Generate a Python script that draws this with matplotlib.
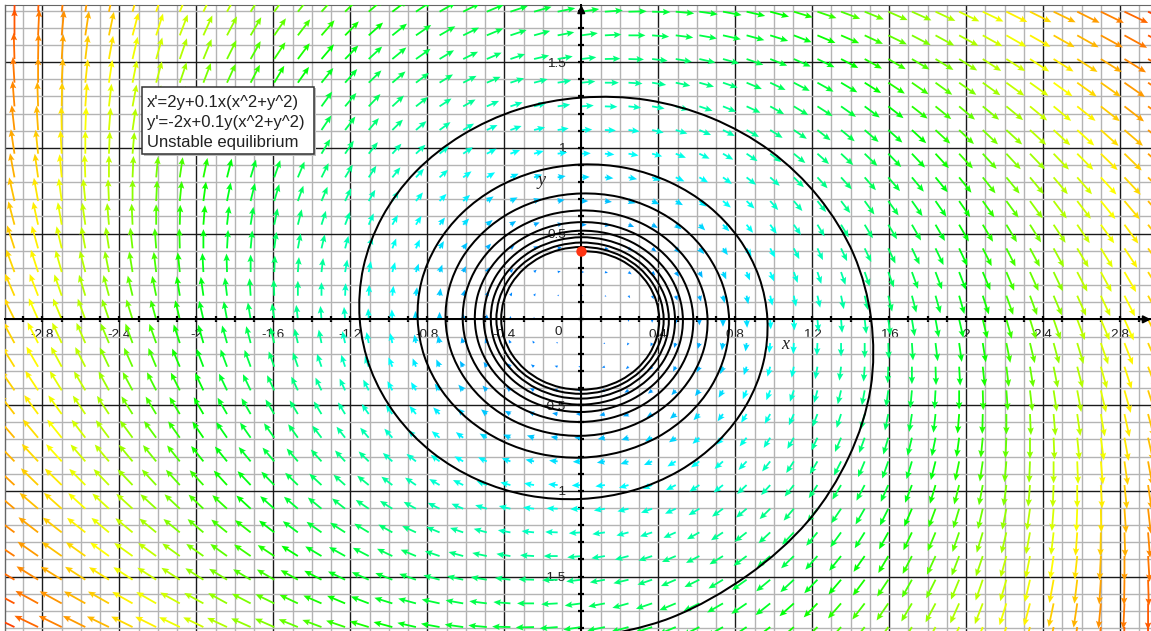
import numpy as np
import matplotlib
matplotlib.use("Agg")
import matplotlib.pyplot as plt
from matplotlib.colors import hsv_to_rgb
from matplotlib.patches import Rectangle, PathPatch
from matplotlib.path import Path

# ---- chart content -------------------------------------------------------
info_lines = ["x'=2y+0.1x(x^2+y^2)", "y'=-2x+0.1y(x^2+y^2)", "Unstable equilibrium"]
x_tick_values = [-2.8, -2.4, -2, -1.6, -1.2, -0.8, -0.4, 0.4, 0.8, 1.2, 1.6, 2, 2.4, 2.8]
x_tick_labels = ["-2.8", "-2.4", "-2", "-1.6", "-1.2", "-0.8", "-0.4", "0.4", "0.8", "1.2", "1.6", "2", "2.4", "2.8"]
y_tick_values = [-1.5, -1, -0.5, 0.5, 1, 1.5]
y_tick_labels = ["-1.5", "-1", "-0.5", "0.5", "1", "1.5"]
start_point = (0.0, 0.40)

# Trajectory: hand-estimated distance from the origin, one value per 15 degrees of clockwise travel from the top.
spiral_radius = [
 .400,.401,.402,.403,.403,.404,.405,.406,.407,.408,.409,.410,.410,.411,.412,.413,.414,.415,.416,.417,
 .418,.419,.420,.421,.422,.423,.424,.425,.426,.427,.428,.429,.430,.431,.432,.433,.434,.435,.436,.437,
 .438,.440,.441,.442,.443,.444,.445,.446,.448,.449,.450,.451,.452,.454,.455,.456,.457,.458,.460,.461,
 .462,.464,.465,.466,.468,.469,.470,.472,.473,.474,.476,.477,.479,.480,.482,.483,.484,.486,.487,.489,
 .491,.492,.494,.495,.497,.498,.500,.502,.503,.505,.507,.508,.510,.512,.514,.515,.517,.519,.521,.523,
 .525,.526,.528,.530,.532,.534,.536,.538,.540,.542,.545,.547,.549,.551,.553,.556,.558,.560,.562,.565,
 .567,.570,.572,.574,.577,.579,.582,.585,.587,.590,.593,.595,.598,.601,.604,.607,.610,.613,.616,.619,
 .622,.625,.628,.632,.635,.638,.642,.645,.649,.652,.656,.660,.663,.667,.671,.675,.679,.683,.688,.692,
 .696,.701,.705,.710,.715,.719,.724,.729,.734,.740,.745,.751,.756,.762,.768,.774,.780,.786,.793,.799,
 .806,.813,.820,.827,.835,.843,.850,.859,.867,.876,.885,.894,.903,.913,.923,.934,.945,.956,.967,.979,
 .992,1.005,1.019,1.033,1.047,1.063,1.079,1.096,1.113,1.132,1.151,1.172,1.194,1.217,1.240,1.267,1.293,1.324,
 1.355,1.389,1.424,1.465,1.506,1.556,1.605,1.665,1.725,1.801,1.877]

# Arrow field, upper half, in tenths of a unit. One row per grid row from the x axis upward, 49 columns left to right.
field_u_upper = [
 [-26,-22,-20,-17,-15,-13,-11,-9,-8,-6,-5,-4,-3,-2,-2,-1,-1,-1,0,0,0,0,0,0,0,0,0,0,0,0,0,1,1,1,2,2,3,4,5,6,8,9,11,13,15,17,20,22,26],
 [-23,-20,-17,-14,-12,-10,-8,-6,-5,-4,-2,-1,0,0,1,1,2,2,2,3,3,3,3,3,3,3,3,3,3,3,3,3,4,4,5,5,6,7,8,9,10,12,14,15,18,20,22,25,28],
 [-20,-17,-14,-12,-9,-7,-5,-4,-2,-1,0,1,2,3,4,4,5,5,5,5,5,5,5,6,6,6,6,6,6,6,6,6,7,7,7,8,9,10,11,12,13,15,16,18,20,23,25,28,31],
 [-18,-15,-12,-9,-7,-5,-3,-1,0,2,3,4,5,6,6,7,7,7,8,8,8,8,8,8,8,8,8,8,8,9,9,9,9,10,10,11,12,13,14,15,16,18,19,21,23,26,28,31,34],
 [-15,-12,-9,-7,-4,-2,0,1,3,4,5,6,7,8,9,9,10,10,10,11,11,11,11,11,11,11,11,11,11,11,12,12,12,13,13,14,15,16,17,18,19,21,22,24,27,29,32,34,37],
 [-13,-10,-7,-5,-2,0,2,4,5,7,8,9,10,11,11,12,12,13,13,13,13,14,14,14,14,14,14,14,14,14,15,15,15,16,16,17,18,19,20,21,22,24,26,28,30,32,35,38,41],
 [-11,-8,-5,-2,0,2,4,6,8,9,10,11,12,13,14,14,15,15,16,16,16,16,16,16,17,17,17,17,17,17,17,18,18,19,19,20,21,22,23,24,25,27,29,31,33,35,38,41,44],
 [-9,-6,-3,0,2,4,6,8,10,11,13,14,15,16,16,17,17,18,18,19,19,19,19,19,19,19,20,20,20,20,20,21,21,22,22,23,24,25,26,27,29,30,32,34,36,39,42,44,48],
 [-7,-4,-1,2,4,7,9,10,12,14,15,16,17,18,19,19,20,20,21,21,21,22,22,22,22,22,22,23,23,23,23,24,24,25,25,26,27,28,29,31,32,34,36,38,40,42,45,48,51],
 [-5,-2,1,4,6,9,11,13,14,16,17,18,19,20,21,22,22,23,23,24,24,24,24,25,25,25,25,25,26,26,26,27,27,28,29,29,30,31,33,34,35,37,39,41,43,46,49,52,55],
 [-4,0,3,6,8,10,13,15,16,18,19,20,22,23,23,24,25,25,26,26,27,27,27,27,28,28,28,28,29,29,29,30,30,31,32,33,34,35,36,37,39,41,43,45,47,50,52,55,59],
 [-2,1,4,7,10,12,14,16,18,20,21,23,24,25,26,26,27,28,28,29,29,29,30,30,30,31,31,31,32,32,32,33,34,34,35,36,37,38,39,41,42,44,46,48,51,53,56,59,63],
 [0,3,6,9,12,14,16,18,20,22,23,25,26,27,28,29,29,30,31,31,32,32,32,33,33,33,34,34,35,35,36,36,37,37,38,39,40,42,43,44,46,48,50,52,55,57,60,63,67],
 [1,4,8,10,13,16,18,20,22,24,25,27,28,29,30,31,32,32,33,34,34,35,35,35,36,36,37,37,38,38,39,39,40,41,42,43,44,45,46,48,50,52,54,56,59,61,64,67,71],
]
field_v_upper = [
 [59,56,54,52,49,47,44,42,39,37,34,32,29,27,25,22,20,17,15,12,10,7,5,2,0,-2,-5,-7,-10,-12,-15,-17,-20,-22,-25,-27,-29,-32,-34,-37,-39,-42,-44,-47,-49,-52,-54,-56,-59],
 [60,58,55,52,50,47,45,42,40,37,35,32,30,27,25,22,20,17,15,12,10,7,5,2,0,-2,-5,-7,-10,-12,-15,-17,-20,-22,-24,-27,-29,-32,-34,-36,-39,-41,-44,-46,-48,-51,-53,-55,-58],
 [61,59,56,53,51,48,46,43,40,38,35,33,30,28,25,22,20,17,15,12,10,7,5,2,0,-2,-5,-7,-10,-12,-15,-17,-19,-22,-24,-26,-29,-31,-34,-36,-38,-40,-43,-45,-47,-50,-52,-54,-56],
 [63,60,57,54,52,49,46,44,41,38,36,33,30,28,25,23,20,18,15,12,10,7,5,3,0,-2,-5,-7,-10,-12,-14,-17,-19,-22,-24,-26,-28,-31,-33,-35,-38,-40,-42,-44,-47,-49,-51,-53,-55],
 [64,61,58,55,53,50,47,44,42,39,36,33,31,28,26,23,20,18,15,13,10,8,5,3,0,-2,-5,-7,-10,-12,-14,-17,-19,-21,-24,-26,-28,-30,-33,-35,-37,-39,-41,-43,-46,-48,-50,-52,-54],
 [65,62,59,56,54,51,48,45,42,39,37,34,31,29,26,23,21,18,15,13,10,8,5,3,0,-2,-5,-7,-9,-12,-14,-16,-19,-21,-23,-25,-28,-30,-32,-34,-36,-38,-40,-43,-45,-47,-49,-51,-53],
 [67,64,61,58,55,52,49,46,43,40,37,35,32,29,26,24,21,18,16,13,11,8,6,3,1,-2,-4,-7,-9,-11,-14,-16,-18,-21,-23,-25,-27,-29,-31,-33,-35,-38,-40,-42,-44,-45,-47,-49,-51],
 [68,65,62,59,56,53,50,47,44,41,38,35,32,30,27,24,21,19,16,14,11,8,6,3,1,-2,-4,-6,-9,-11,-13,-16,-18,-20,-22,-24,-26,-29,-31,-33,-35,-37,-39,-40,-42,-44,-46,-48,-50],
 [70,67,63,60,57,54,51,48,45,42,39,36,33,30,28,25,22,19,17,14,11,9,6,4,1,-1,-3,-6,-8,-11,-13,-15,-17,-19,-22,-24,-26,-28,-30,-32,-34,-36,-37,-39,-41,-43,-45,-46,-48],
 [72,68,65,62,58,55,52,49,46,43,40,37,34,31,28,26,23,20,17,15,12,9,7,4,2,-1,-3,-5,-8,-10,-12,-14,-17,-19,-21,-23,-25,-27,-29,-31,-33,-34,-36,-38,-40,-41,-43,-45,-46],
 [74,70,67,63,60,57,54,50,47,44,41,38,35,32,29,26,24,21,18,15,13,10,8,5,3,0,-2,-5,-7,-9,-11,-14,-16,-18,-20,-22,-24,-26,-28,-30,-31,-33,-35,-36,-38,-40,-41,-43,-44],
 [76,72,69,65,62,58,55,52,49,45,42,39,36,33,30,27,25,22,19,16,14,11,8,6,4,1,-1,-4,-6,-8,-10,-13,-15,-17,-19,-21,-23,-25,-26,-28,-30,-32,-33,-35,-36,-38,-39,-41,-42],
 [78,74,71,67,64,60,57,53,50,47,44,41,38,35,32,29,26,23,20,17,15,12,10,7,5,2,0,-3,-5,-7,-9,-11,-13,-16,-18,-19,-21,-23,-25,-27,-28,-30,-32,-33,-35,-36,-37,-39,-40],
 [80,77,73,69,66,62,59,55,52,49,45,42,39,36,33,30,27,24,21,19,16,13,11,8,6,3,1,-1,-4,-6,-8,-10,-12,-14,-16,-18,-20,-22,-23,-25,-27,-28,-30,-31,-32,-34,-35,-36,-38],
]

# ---- figure --------------------------------------------------------------
W, H = 1151, 631
plt.rcParams['font.family'] = ['Liberation Sans', 'DejaVu Sans']
fig = plt.figure(figsize=(W / 100, H / 100), dpi=100, facecolor='white')
ax = fig.add_axes([5 / W, 0, 1146 / W, 626 / H])
ax.set_xlim(-2.994, 2.960)
ax.set_ylim(-1.817, 1.833)
px_x = 1146 / (2.960 + 2.994)
px_y = 626 / (1.833 + 1.817)

U_up = np.array(field_u_upper) / 10
V_up = np.array(field_v_upper) / 10
U = np.vstack([-U_up[:0:-1, ::-1], U_up])   # picture is point-symmetric about the origin
V = np.vstack([-V_up[:0:-1, ::-1], V_up])
col_step, row_step = 0.1227, 0.138
X, Y = np.meshgrid(np.arange(-24, 25) * col_step, np.arange(-13, 14) * row_step)

mag = np.hypot(U, V)
hue = np.interp(mag, [0, 1, 2, 3, 4, 5, 6, 7, 8.5], [.6, .57, .5, .42, .35, .25, .17, .1, .02])
rgb = hsv_to_rgb(np.dstack([hue, np.ones_like(hue), np.ones_like(hue)]))
length_px = np.interp(mag, [0, 3.6, 4.2, 7, 8], [0, 18, 19.5, 25, 27])
screen = np.hypot(U * px_x, V * px_y)
screen[screen == 0] = 1
k = length_px / screen
mask = mag > 0
ax.quiver(X[mask], Y[mask], (U * k)[mask], (V * k)[mask], color=rgb[mask],
          angles='xy', scale_units='xy', scale=1, units='dots',
          width=1.8, headwidth=3.6, headlength=4.2, headaxislength=3.6,
          minlength=0, pivot='tail', zorder=3)

phi = np.deg2rad(15 * np.arange(len(spiral_radius)))
r = np.array(spiral_radius)
P = np.column_stack([r * np.sin(phi), r * np.cos(phi)])
T = np.gradient(P, axis=0) / 3           # smooth Bezier handles through the listed points
verts = [P[0]]
codes = [Path.MOVETO]
for a in range(len(P) - 1):
    verts += [P[a] + T[a], P[a + 1] - T[a + 1], P[a + 1]]
    codes += [Path.CURVE4] * 3
ax.add_patch(PathPatch(Path(verts, codes), fc='none', ec='black', lw=1.45, zorder=4))
ax.plot(*start_point, 'o', color='#ff3312', ms=7.5, mew=0, zorder=6)

# axes, ticks, grid
ax.spines['right'].set_visible(False)
ax.spines['top'].set_color('#666666')
ax.spines['left'].set_position('zero')
ax.spines['bottom'].set_position('zero')
ax.spines['left'].set_linewidth(1.45)
ax.spines['bottom'].set_linewidth(1.45)
ax.spines['left'].set_zorder(5)
ax.spines['bottom'].set_zorder(5)
ax.set_xticks(x_tick_values, x_tick_labels)
ax.set_yticks(y_tick_values, y_tick_labels)
ax.set_xticks(np.arange(-29, 30) / 10, minor=True)
ax.set_yticks(np.arange(-18, 19) / 10, minor=True)
ax.set_axisbelow(True)
ax.grid(which='minor', color='#b4b4b4', lw=1.0, zorder=0)
ax.grid(which='major', color='#1a1a1a', lw=1.0, zorder=1)
ax.tick_params(which='both', direction='inout', length=4, width=1.6, color='black')
ax.tick_params(axis='x', which='major', labelsize=9.7, pad=5, labelcolor='#222222')
ax.tick_params(axis='y', which='major', labelsize=9.7, pad=9, labelcolor='#222222')
ax.axvline(-2.994, color='#666666', lw=1.0, clip_on=False, zorder=1)
ax.text(-0.12, -0.04, "0", ha='center', va='top', fontsize=9.7, color='#222222', zorder=5)

for xy, xytext in [((2.960, 0), (2.90, 0)), ((0, 1.833), (0, 1.78))]:
    ax.annotate('', xy=xy, xytext=xytext, annotation_clip=False, zorder=6,
                arrowprops=dict(arrowstyle='-|>', color='black', lw=1.4, shrinkA=0, shrinkB=0, mutation_scale=11))

ax.text(1.06, -0.145, "x", family=['Liberation Serif'], style='italic', fontsize=13, ha='center', va='center', color='#222222', zorder=6)
ax.text(-0.205, 0.81, "y", family=['Liberation Serif'], style='italic', fontsize=13, ha='center', va='center', color='#222222', zorder=6)

# information box
fig.add_artist(Rectangle((144 / W, 1 - 156 / H), 172 / W, 68 / H, transform=fig.transFigure,
                         fc='#bdbdbd', ec='none', zorder=7))
fig.add_artist(Rectangle((142 / W, 1 - 154 / H), 172 / W, 67 / H, transform=fig.transFigure,
                         fc='white', ec='#333333', lw=1.1, zorder=8))
for line, py in zip(info_lines, [102, 122, 142]):
    fig.text(147 / W, 1 - py / H, line, fontsize=12, color='#222222', ha='left', va='center', zorder=9)

fig.savefig('out.png', dpi=100, facecolor='white')
